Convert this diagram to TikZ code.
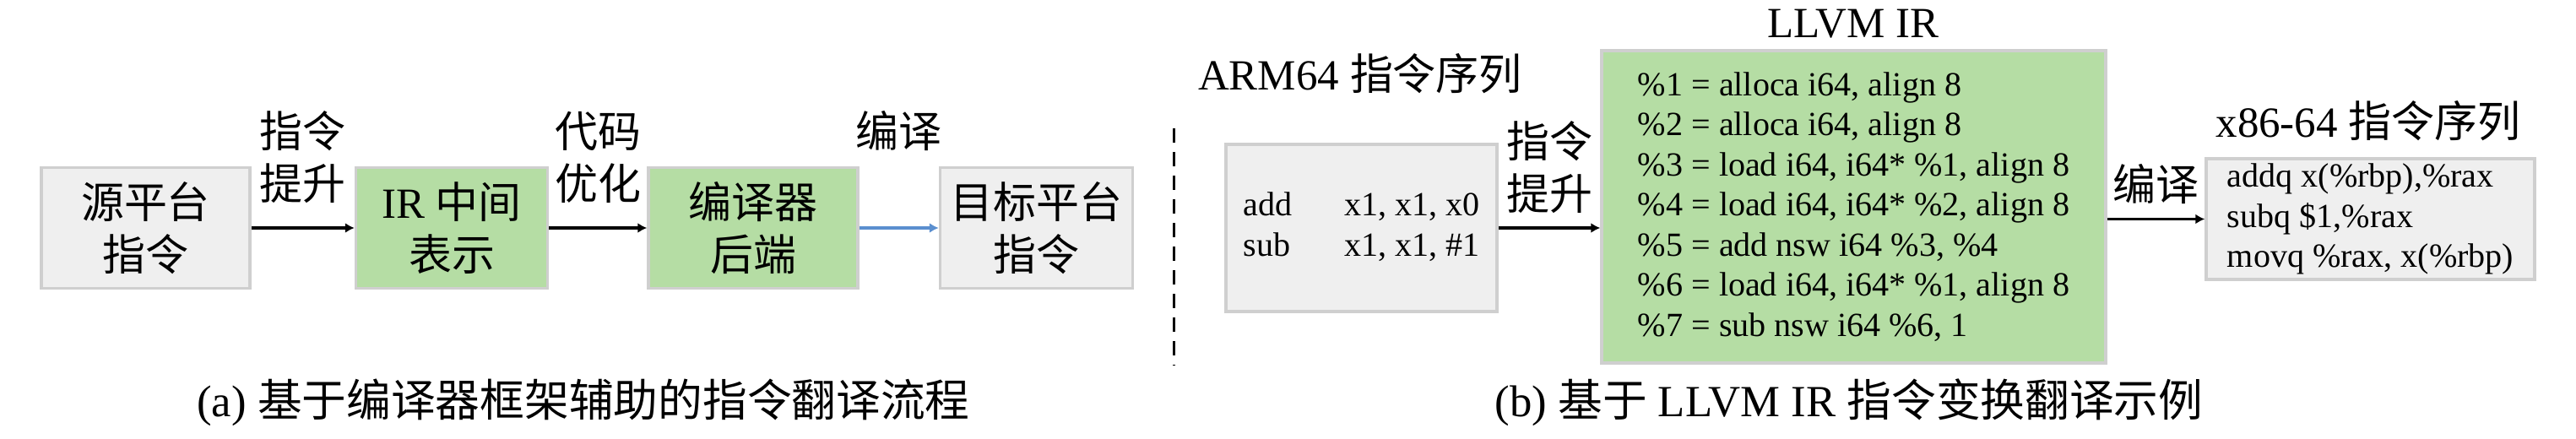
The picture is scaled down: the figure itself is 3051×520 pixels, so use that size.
\documentclass[tikz,border=0pt]{standalone}
\usepackage{fontspec}
\setmainfont{Liberation Serif}
\newfontfamily\cjk{Noto Sans CJK SC}
\newcommand{\zh}[1]{{\cjk #1}}
\usetikzlibrary{arrows.meta,positioning}
\definecolor{boxgray}{HTML}{EFEFEF}
\definecolor{boxedge}{HTML}{CFCFCF}
\definecolor{boxgreen}{HTML}{B5DDA4}
\definecolor{arrowblue}{HTML}{5B8FCF}

\begin{document}
\begin{tikzpicture}[x=0.1mm,y=-0.1mm,>={Latex[length=1.1mm,width=1.2mm]}]
    \tikzset{gblock/.style= {draw=boxedge, fill=boxgray, line width=0.35mm, inner sep=0pt, align=center, minimum height=14.3mm, font=\fontsize{14.5pt}{17.6pt}\selectfont},
    irblock/.style={gblock, fill=boxgreen},
    codeblock/.style={draw=boxedge, fill=boxgray, line width=0.35mm, inner sep=0pt, align=left, font=\fontsize{11.4pt}{13.5pt}\selectfont},
    lbl/.style={inner sep=0pt, align=center, font=\fontsize{14.5pt}{17.6pt}\selectfont},
    captext/.style={inner sep=0pt, font=\fontsize{15pt}{18pt}\selectfont},
    }
    \useasboundingbox (0,0) rectangle (3051,520);

    %% (a) flow
    \node [gblock, minimum width=24.7mm] (src) at (172.5,270) {\zh{源平台}\\\zh{指令}};
    \node [irblock, minimum width=22.7mm, right=12.2mm of src] (ir) {IR \zh{中间}\\\zh{表示}};
    \node [irblock, minimum width=24.8mm, right=11.6mm of ir] (backend) {\zh{编译器}\\\zh{后端}};
    \node [gblock, minimum width=22.8mm, right=9.4mm of backend] (target) {\zh{目标平台}\\\zh{指令}};

    \path[draw,->, line width=0.35mm, every node/.style={lbl}]
                (src) edge node [above=2.8mm] {\zh{指令}\\\zh{提升}} (ir)
                (ir) edge node [above=2.8mm] {\zh{代码}\\\zh{优化}} (backend)
                ;
    \draw[->, line width=0.35mm, arrowblue] (backend) -- node [lbl, text=black, above=9mm] {\zh{编译}} (target);

    \node [captext] (capa) at (691,477) {(a) \zh{基于编译器框架辅助的指令翻译流程}};

    %% divider
    \draw[line width=0.3mm, dash pattern=on 1.7mm off 1.1mm] (1390,152) -- (1390,433);

    %% (b) example
    \node [lbl] (armtitle) at (1611,87) {ARM64 \zh{指令序列}};
    \node [codeblock, minimum width=32.1mm, minimum height=19.8mm] (arm) at (1612.5,270)
        {\begin{tabular}{@{}l@{\hspace{6.2mm}}l@{}}add & x1, x1, x0\\ sub & x1, x1, \#1\end{tabular}};
    \node [codeblock, fill=boxgreen, minimum width=59.7mm, minimum height=37mm] (llvm) at (2195.5,245)
        {\%1 = alloca i64, align 8\\
         \%2 = alloca i64, align 8\\
         \%3 = load i64, i64* \%1, align 8\\
         \%4 = load i64, i64* \%2, align 8\\
         \%5 = add nsw i64 \%3, \%4\\
         \%6 = load i64, i64* \%1, align 8\\
         \%7 = sub nsw i64 \%6, 1};
    \node [lbl] (llvmtitle) at (2195,28) {LLVM IR};
    \node [lbl] (x86title) at (2805,143) {x86-64 \zh{指令序列}};
    \node [codeblock, minimum width=38.9mm, minimum height=14.3mm] (x86) at (2807.5,259.5)
        {addq x(\%rbp),\%rax\\
         subq \$1,\%rax\\
         movq \%rax, x(\%rbp)};

    \draw[->, line width=0.35mm] (arm.east) -- node [lbl, above=1.6mm] {\zh{指令}\\\zh{提升}} (arm.east -| llvm.west);
    \draw[->, line width=0.35mm] (llvm.east |- x86.west) -- node [lbl, above=1.6mm] {\zh{编译}} (x86.west);

    \node [captext] (capb) at (2190,477) {(b) \zh{基于} LLVM IR \zh{指令变换翻译示例}};
\end{tikzpicture}
\end{document}
